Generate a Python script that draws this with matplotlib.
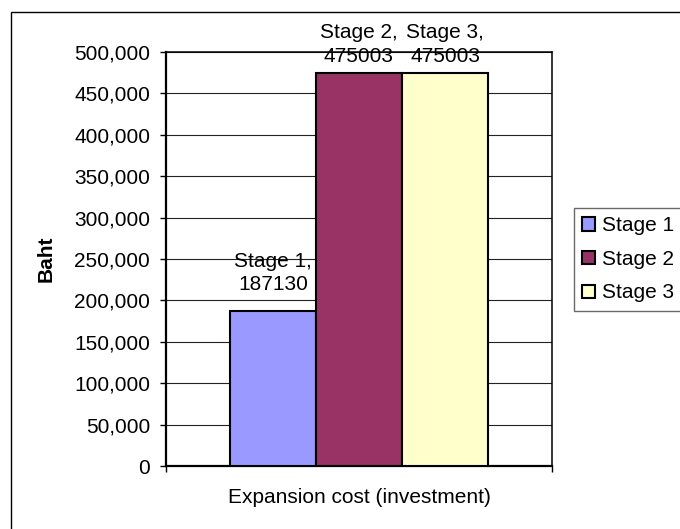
import matplotlib.pyplot as plt
from matplotlib.patches import Rectangle
from matplotlib.ticker import FuncFormatter

plt.rcParams['font.family'] = ['Liberation Sans', 'DejaVu Sans']

stages = ["Stage 1", "Stage 2", "Stage 3"]
costs = [187130, 475003, 475003]
colors = ["#9999FF", "#993366", "#FFFFCC"]
label_offsets = [12, 5, 5]  # points above each bar
xlabel = "Expansion cost (investment)"
ylabel = "Baht"

FS = 15

fig = plt.figure(figsize=(6.8, 5.29), dpi=100)

# chart area border (runs off the page on the right and bottom)
fig.patches.append(Rectangle((11 / 680, -0.1), 1.2, (529 - 12) / 529 + 0.1,
                             transform=fig.transFigure, fill=False,
                             edgecolor='black', linewidth=1.0))

ax = fig.add_axes([166 / 680, 63 / 529, 386 / 680, 414 / 529])

width = 0.2228
centers = [0.5 + (i - 1) * width for i in range(len(stages))]
bars = ax.bar(centers, costs, width=width, color=colors, edgecolor='black',
              linewidth=1.5, label=stages, zorder=3)

for x, v, name, off in zip(centers, costs, stages, label_offsets):
    ax.annotate(f"{name},\n{v}", (x, v), xytext=(0, off), textcoords='offset points',
                ha='center', va='bottom', fontsize=FS, linespacing=1.3,
                annotation_clip=False)

ax.set_xlim(0, 1)
ax.set_ylim(0, 500000)
ax.set_yticks(range(0, 500001, 50000))
ax.yaxis.set_major_formatter(FuncFormatter(lambda v, p: f"{int(v):,}"))
ax.set_xticks([0, 1])
ax.set_xticklabels([])
ax.tick_params(axis='y', direction='out', length=4.5, width=1.0, pad=7, labelsize=FS)
ax.tick_params(axis='x', direction='out', length=4.5, width=1.0)
ax.yaxis.grid(True, color='#222222', linewidth=0.8, zorder=0)
ax.set_axisbelow(True)

for side in ['left', 'bottom']:
    ax.spines[side].set_linewidth(1.6)
for side in ['top', 'right']:
    ax.spines[side].set_linewidth(1.1)

ax.set_xlabel(xlabel, fontsize=FS, labelpad=8)
ax.set_ylabel(ylabel, fontsize=FS, fontweight='bold')
ax.yaxis.set_label_coords(-(166 - 56) / 386, 0.5)

ax.legend(loc='upper left', bbox_to_anchor=(574 / 680, (529 - 208) / 529),
          bbox_transform=fig.transFigure, fontsize=FS, frameon=True, fancybox=False,
          edgecolor='#444444', handlelength=0.6, handleheight=0.6, handletextpad=0.35,
          labelspacing=0.7, borderpad=0.4, borderaxespad=0)

fig.savefig("out.png", dpi=100)
